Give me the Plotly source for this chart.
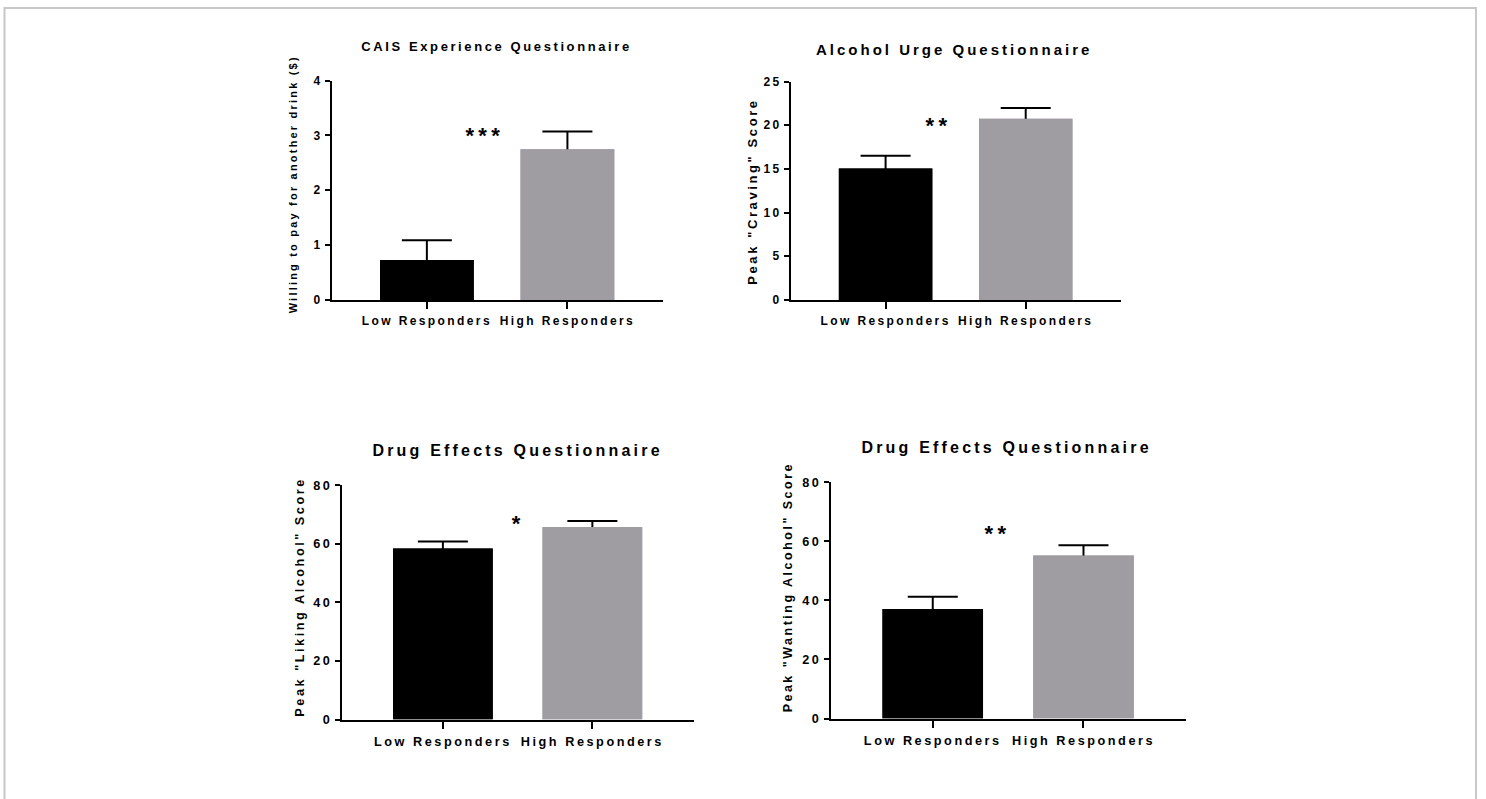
import plotly.graph_objects as go

W, H = 1486, 799
# measured mapping of page pixels to the photographed picture (vertical):
# picture_y = Y0 + YS * page_y
Y0, YS = 7.5, 0.981

# ---------------- data ----------------
categories = ["Low Responders", "High Responders"]

cais_means = [0.73, 2.75]
cais_sem = [0.36, 0.32]

urge_means = [15.05, 20.75]
urge_sem = [1.45, 1.23]

liking_means = [58.4, 65.7]
liking_sem = [2.4, 2.1]

wanting_means = [37.1, 55.2]
wanting_sem = [4.1, 3.5]

titles = ["CAIS Experience Questionnaire", "Alcohol Urge Questionnaire",
          "Drug Effects Questionnaire", "Drug Effects Questionnaire"]
y_titles = ["Willing to pay for another drink ($)", 'Peak "Craving" Score',
            'Peak "Liking Alcohol" Score', 'Peak "Wanting Alcohol" Score']
y_tickvals = [[0, 1, 2, 3, 4], [0, 5, 10, 15, 20, 25],
              [0, 20, 40, 60, 80], [0, 20, 40, 60, 80]]
sig_labels = ["***", "**", "*", "**"]
sig_y = [3.0, 19.95, 66.8, 62.5]

means = [cais_means, urge_means, liking_means, wanting_means]
sems = [cais_sem, urge_sem, liking_sem, wanting_sem]

# ---------------- layout (target picture pixels) ----------------
boxes = [(332, 663, 81, 300), (791, 1121, 82, 300),
         (342, 694, 485, 719), (831, 1186, 482, 718)]
title_pos = [(496, 47, 13), (954, 50, 15), (517, 450, 16), (1006, 447, 16)]
ytitle_pos = [(293, 185, 11), (753, 192, 13), (300, 597, 12.7), (788, 587, 12.5)]
tick_sizes = [12, 12, 12.7, 12.7]
sig_xpos = [0.41, 0.38, 0.507, 0.435]

FONT = "Liberation Sans"
bar_colors = ["#000000", "#a09da2"]


def px(x):
    return x / W


def py(y):
    return 1 - ((y - Y0) / YS) / H


fig = go.Figure()
annotations = []

for i in range(4):
    n = "" if i == 0 else str(i + 1)
    # bars carrying the error bars (lower half of each error bar is hidden
    # below the identical bars drawn on top)
    fig.add_trace(go.Bar(
        x=categories, y=means[i], width=0.667,
        marker=dict(color=bar_colors, line=dict(width=0)),
        error_y=dict(type="data", array=sems[i], symmetric=True,
                     color="black", thickness=2, width=25),
        xaxis="x" + n, yaxis="y" + n, showlegend=False, hoverinfo="skip",
    ))
    fig.add_trace(go.Bar(
        x=categories, y=means[i], width=0.667,
        marker=dict(color=bar_colors, line=dict(width=0)),
        xaxis="x" + n, yaxis="y" + n, showlegend=False,
    ))
    x0, x1, y0, y1 = boxes[i]
    common = dict(showline=True, linecolor="black", linewidth=2,
                  ticks="outside", tickcolor="black", tickwidth=2,
                  showgrid=False, zeroline=False,
                  tickfont=dict(family=FONT, size=tick_sizes[i], color="black", weight="bold"))
    fig.update_layout(**{
        "xaxis" + n: dict(domain=[px(x0), px(x1)], anchor="y" + n,
                          type="category", range=[-0.675, 1.68],
                          ticklen=7, ticklabelstandoff=2, **common),
        "yaxis" + n: dict(domain=[py(y1), py(y0)], anchor="x" + n,
                          range=[0, y_tickvals[i][-1]], tickvals=y_tickvals[i],
                          ticklen=5, **common),
    })
    tx, ty, ts = title_pos[i]
    annotations.append(dict(text=titles[i], x=px(tx), y=py(ty), xref="paper", yref="paper",
                            xanchor="center", yanchor="middle", showarrow=False,
                            font=dict(family=FONT, size=ts, color="black", weight="bold")))
    ax_, ay_, as_ = ytitle_pos[i]
    annotations.append(dict(text=y_titles[i], x=px(ax_), y=py(ay_), xref="paper", yref="paper",
                            xanchor="center", yanchor="middle", showarrow=False, textangle=-90,
                            font=dict(family=FONT, size=as_, color="black", weight="bold")))
    annotations.append(dict(text=sig_labels[i], x=sig_xpos[i], y=sig_y[i],
                            xref="x" + n, yref="y" + n,
                            xanchor="center", yanchor="middle", showarrow=False,
                            font=dict(family=FONT, size=22, color="black", weight="bold")))

fig.update_layout(
    width=W, height=H, autosize=False,
    margin=dict(l=0, r=0, t=0, b=0),
    paper_bgcolor="white", plot_bgcolor="white",
    annotations=annotations,
    barmode="overlay",
    shapes=[dict(type="rect", xref="paper", yref="paper",
                 x0=px(4.5), x1=px(1476), y0=-0.1, y1=1 - 1 / H,
                 line=dict(color="#c8c8c8", width=2), fillcolor="rgba(0,0,0,0)",
                 layer="below")],
)

post = """
document.body.style.margin='0';
var st=document.createElement('style');
st.textContent='.main-svg text{letter-spacing:0.2em}';
document.head.appendChild(st);
"""
fig.write_html("out.html", post_script=post, config={"displayModeBar": False})
